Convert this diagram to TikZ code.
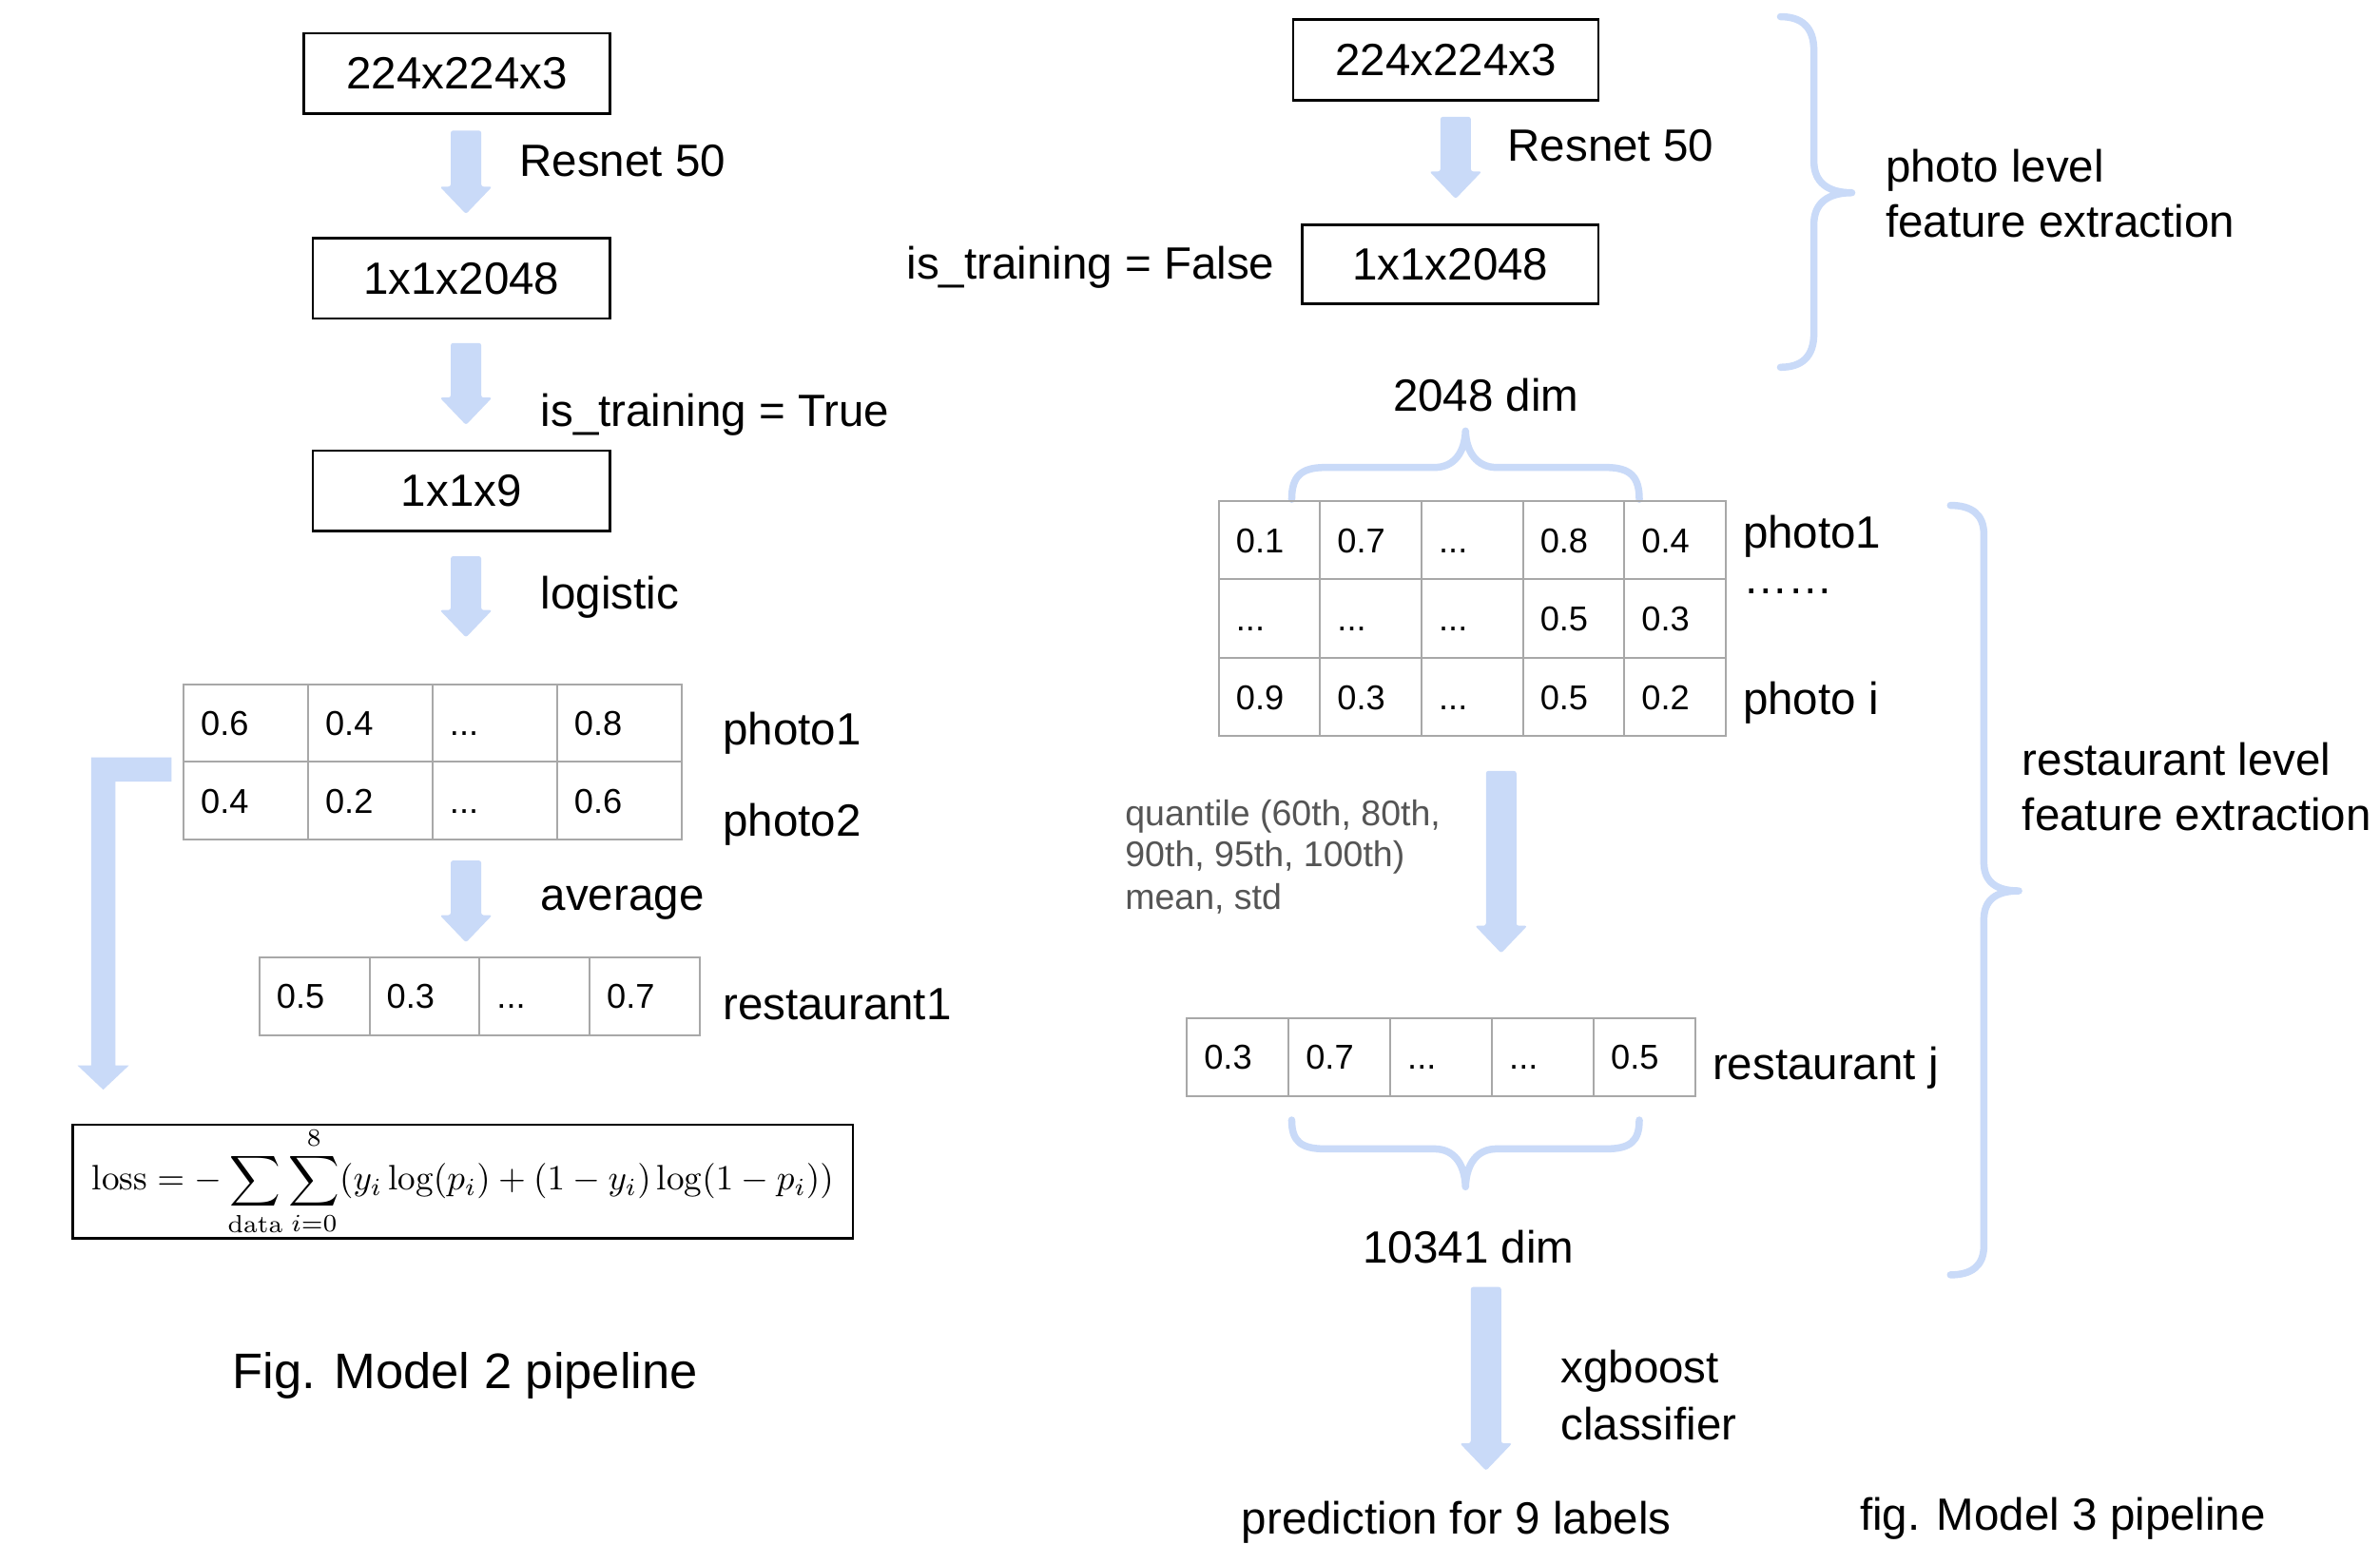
\documentclass[tikz,border=0pt]{standalone}
\usepackage{fontspec}
\usepackage{graphicx}
\newfontfamily\arial{Liberation Sans}
\usetikzlibrary{calc}
\definecolor{arrowblue}{HTML}{C9DAF8}
\definecolor{cellgray}{HTML}{A8A8A8}
\definecolor{quantgray}{HTML}{555555}
\newcommand\ddd{...}
% block arrow between two named coordinates (top -> tip)
\newcommand\blockarrow[2]{%
  \fill[arrowblue, rounded corners=1pt] let \p1=(#1), \p2=(#2) in
    (\x1-6.4pt,\y1) -- (\x1+6.4pt,\y1) -- (\x1+6.4pt,\y2+11.5pt) -- (\x1+11pt,\y2+11.5pt)
    -- (\x2,\y2) -- (\x1-11pt,\y2+11.5pt) -- (\x1-6.4pt,\y2+11.5pt) -- cycle;}
\tikzset{
  box/.style={draw=black, line width=1pt, inner sep=0pt, font=\arial\fontsize{19}{23}\selectfont},
  lbl/.style={inner sep=0pt, anchor=base west, font=\arial\fontsize{19}{23}\selectfont},
  clbl/.style={inner sep=0pt, anchor=base, font=\arial\fontsize{19}{23}\selectfont},
  qlbl/.style={inner sep=0pt, anchor=base west, text=quantgray, font=\arial\fontsize{15}{18}\selectfont},
  cell/.style 2 args={draw=cellgray, line width=0.8pt, rectangle, text width=#1, minimum height=#2,
    inner xsep=7.2pt, inner ysep=0pt, text height=10.4pt, text depth=0pt, align=left,
    font=\arial\fontsize{14.5}{17}\selectfont},
  brace/.style={draw=arrowblue, line width=3pt, line cap=round, line join=round}
}
\begin{document}
\begin{tikzpicture}[x=0.6385pt, y=-0.6385pt]
\fill[white] (0,0) rectangle (1568,1017);
\useasboundingbox (0,0) rectangle (1568,1017);

% ================= Model 2 (left) =================
\node[box, minimum width=128.98pt, minimum height=33.84pt] (inL) at (301,48.5) {224x224x3};
\node[box, minimum width=125.15pt, minimum height=33.84pt] (featL) at (304,183.5) {1x1x2048};
\node[box, minimum width=125.15pt, minimum height=33.84pt] (outL) at (304,323.5) {1x1x9};

\coordinate (a1s) at (307,86);    \coordinate (a1e) at (307,141);
\coordinate (a2s) at (307,226);   \coordinate (a2e) at (307,280);
\coordinate (a3s) at (307,366.5); \coordinate (a3e) at (307,420);
\coordinate (a4s) at (307,567);   \coordinate (a4e) at (307,621);
\blockarrow{a1s}{a1e}
\blockarrow{a2s}{a2e}
\blockarrow{a3s}{a3e}
\blockarrow{a4s}{a4e}

\node[lbl] (resL) at (342,116) {Resnet 50};
\node[lbl] (trainL) at (356,281) {is\_training = True};
\node[lbl] (logL) at (356,401) {logistic};

% table of photo probabilities
\foreach \v [count=\c] in {0.6,0.4,\ddd,0.8}
  \node[cell={37.96pt}{32.56pt}] (ta-1-\c) at ({121+82*(\c-0.5)},476.5) {\v};
\foreach \v [count=\c] in {0.4,0.2,\ddd,0.6}
  \node[cell={37.96pt}{32.56pt}] (ta-2-\c) at ({121+82*(\c-0.5)},527.5) {\v};
\node[lbl] (ph1L) at (476,491) {photo1};
\node[lbl] (ph2L) at (476,551) {photo2};
\node[lbl] (avgL) at (356,600) {average};

% restaurant vector
\foreach \v [count=\c] in {0.5,0.3,\ddd,0.7}
  \node[cell={31.89pt}{32.56pt}] (tb-1-\c) at ({171+72.5*(\c-0.5)},656.5) {\v};
\node[lbl] (rest1) at (476,672) {restaurant1};

% bent arrow
\coordinate (bs) at (113,507);
\coordinate (be) at (68,718);
\fill[arrowblue] let \p1=(bs), \p2=(be) in
  (\x1,\y1+5.1pt) -- (\x2-5.1pt,\y1+5.1pt) -- (\x2-5.1pt,\y2+10.2pt) -- (\x2-10.8pt,\y2+10.2pt)
  -- (\x2,\y2) -- (\x2+10.8pt,\y2+10.2pt) -- (\x2+5.1pt,\y2+10.2pt) -- (\x2+5.1pt,\y1-5.1pt)
  -- (\x1,\y1-5.1pt) -- cycle;

% loss formula
\node[draw=black, line width=1pt, minimum width=328.2pt, minimum height=47.9pt, inner sep=0pt] (loss) at (305,778.5)
  {\resizebox{312pt}{!}{$\displaystyle \mathrm{loss} = -\sum_{\mathrm{data}}\sum_{i=0}^{8}(y_i\log(p_i)+(1-y_i)\log(1-p_i))$}};

\node[inner sep=0pt, anchor=base, font=\arial\fontsize{21}{25}\selectfont] (cap2) at (306.5,915) {Fig. Model 2 pipeline};

% ================= Model 3 (right) =================
\node[box, minimum width=128.34pt, minimum height=33.84pt] (inR) at (952.5,39.5) {224x224x3};
\node[box, minimum width=124.5pt, minimum height=33.2pt] (featR) at (955.5,174) {1x1x2048};
\coordinate (r1s) at (959,77); \coordinate (r1e) at (959,131);
\blockarrow{r1s}{r1e}
\node[lbl] (resR) at (993,106) {Resnet 50};
\node[inner sep=0pt, anchor=base east, font=\arial\fontsize{19}{23}\selectfont] (trainR) at (840,184) {is\_training = False};

% photo level brace
\draw[brace] (1173,11) .. controls (1187,11) and (1195,18) .. (1195,33) -- (1195,106)
  .. controls (1195,120) and (1204,127) .. (1220,127)
  .. controls (1204,127) and (1195,134) .. (1195,148) -- (1195,220)
  .. controls (1195,235) and (1187,242) .. (1173,242);
\node[lbl] (pl1) at (1242,120) {photo level};
\node[lbl] (pl2) at (1242,156) {feature extraction};

\node[clbl] (d2048) at (979,271) {2048 dim};
\draw[brace] (851,329) .. controls (851,314) and (857,308) .. (873,308) -- (945,308)
  .. controls (958,308) and (965,298) .. (965.5,284)
  .. controls (966,298) and (973,308) .. (986,308) -- (1058,308)
  .. controls (1074,308) and (1080,314) .. (1080,329);

% photo feature table
\foreach \v [count=\c] in {0.1,0.7,\ddd,0.8,0.4}
  \node[cell={28.25pt}{33.0pt}] (tc-1-\c) at ({803+66.8*(\c-0.5)},355.85) {\v};
\foreach \v [count=\c] in {\ddd,\ddd,\ddd,0.5,0.3}
  \node[cell={28.25pt}{33.0pt}] (tc-2-\c) at ({803+66.8*(\c-0.5)},407.55) {\v};
\foreach \v [count=\c] in {0.9,0.3,\ddd,0.5,0.2}
  \node[cell={28.25pt}{33.0pt}] (tc-3-\c) at ({803+66.8*(\c-0.5)},459.25) {\v};
\node[lbl] (pr1) at (1148,361) {photo1};
\node[lbl] (prd) at (1148,391) {……};
\node[lbl] (pri) at (1148,471) {photo i};

% quantile arrow
\coordinate (q1s) at (989,508); \coordinate (q1e) at (989,628);
\blockarrow{q1s}{q1e}
\node[qlbl] (q1) at (741,544) {quantile (60th, 80th,};
\node[qlbl] (q2) at (741,571) {90th, 95th, 100th)};
\node[qlbl] (q3) at (741,599) {mean, std};

% restaurant feature vector
\foreach \v [count=\c] in {0.3,0.7,\ddd,\ddd,0.5}
  \node[cell={28.38pt}{32.56pt}] (td-1-\c) at ({782+67*(\c-0.5)},696.5) {\v};
\node[lbl] (restj) at (1128,711.5) {restaurant j};
\draw[brace] (851,738) .. controls (851,752) and (857,757) .. (873,757) -- (945,757)
  .. controls (958,757) and (965,767) .. (965.5,782)
  .. controls (966,767) and (973,757) .. (986,757) -- (1058,757)
  .. controls (1074,757) and (1080,752) .. (1080,738);
\node[clbl] (d10341) at (967.5,832) {10341 dim};

% restaurant level brace
\draw[brace] (1285,333) .. controls (1299,333) and (1307,339) .. (1307,352) -- (1307,568)
  .. controls (1307,581) and (1315,587) .. (1330,587)
  .. controls (1315,587) and (1307,593) .. (1307,606) -- (1307,821)
  .. controls (1307,834) and (1299,840) .. (1285,840);
\node[lbl] (rl1) at (1332,511) {restaurant level};
\node[lbl] (rl2) at (1332,547.5) {feature extraction};

% xgboost arrow
\coordinate (x1s) at (979,848); \coordinate (x1e) at (979,969);
\blockarrow{x1s}{x1e}
\node[lbl] (xg1) at (1028,911) {xgboost};
\node[lbl] (xg2) at (1028,948.5) {classifier};
\node[clbl] (pred) at (959.5,1011) {prediction for 9 labels};
\node[lbl] (cap3) at (1225,1008.5) {fig. Model 3 pipeline};
\end{tikzpicture}
\end{document}
